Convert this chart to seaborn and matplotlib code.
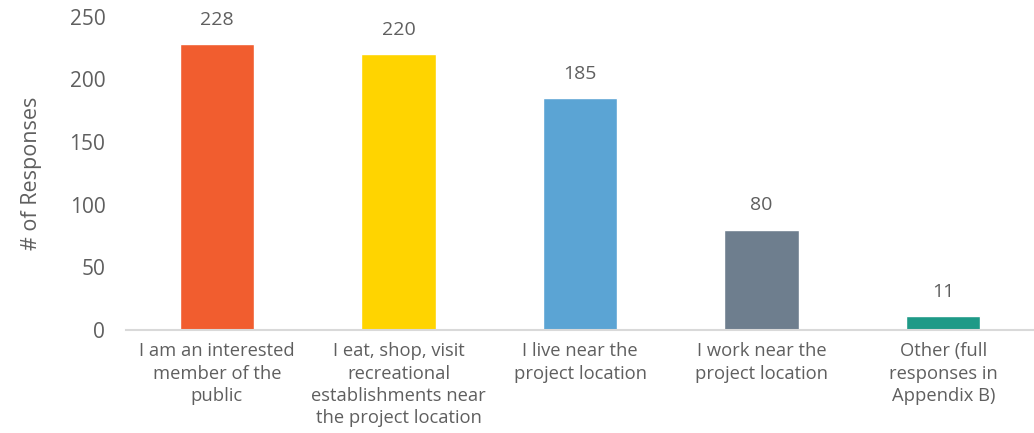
import matplotlib
matplotlib.use("Agg")
import matplotlib.pyplot as plt
import seaborn as sns
import pandas as pd

# chart data
categories = ["I am an interested\nmember of the\npublic",
              "I eat, shop, visit\nrecreational\nestablishments near\nthe project location",
              "I live near the\nproject location",
              "I work near the\nproject location",
              "Other (full\nresponses in\nAppendix B)"]
responses = [228, 220, 185, 80, 11]
colors = ["#F15D2F", "#FFD400", "#5BA4D4", "#6E7E8E", "#1E9A87"]

df = pd.DataFrame({"category": categories, "responses": responses})

sns.set_style("white")
plt.rcParams["font.family"] = ["Open Sans", "DejaVu Sans"]
text_color = "#5f5f5f"

fig = plt.figure(figsize=(10.34, 4.33), dpi=100)
ax = fig.add_axes([0.122, 0.238, 0.878, 0.723])

sns.barplot(data=df, x="category", y="responses", hue="category",
            palette=colors, legend=False, width=0.41, saturation=1, ax=ax)

# value labels above bars
for i, v in enumerate(responses):
    ax.annotate(str(v), (i, v), xytext=(0, 11), textcoords="offset points",
                ha="center", va="bottom", fontsize=14, color=text_color)

ax.set_ylim(0, 250)
ax.set_yticks([0, 50, 100, 150, 200, 250])
ax.set_xlim(-0.5, 4.5)
ax.tick_params(axis="y", labelsize=15, colors=text_color, length=0, pad=15)
ax.tick_params(axis="x", labelsize=13.2, colors=text_color, length=0, pad=9)
for lbl in ax.get_xticklabels():
    lbl.set_linespacing(1.3)
ax.set_ylabel("# of Responses", fontsize=15.5, color=text_color, labelpad=20)
ax.set_xlabel("")

sns.despine(ax=ax, left=True)
ax.spines["bottom"].set_color("#D9D9D9")
ax.spines["bottom"].set_linewidth(1.5)

fig.savefig("out.png", dpi=100)
